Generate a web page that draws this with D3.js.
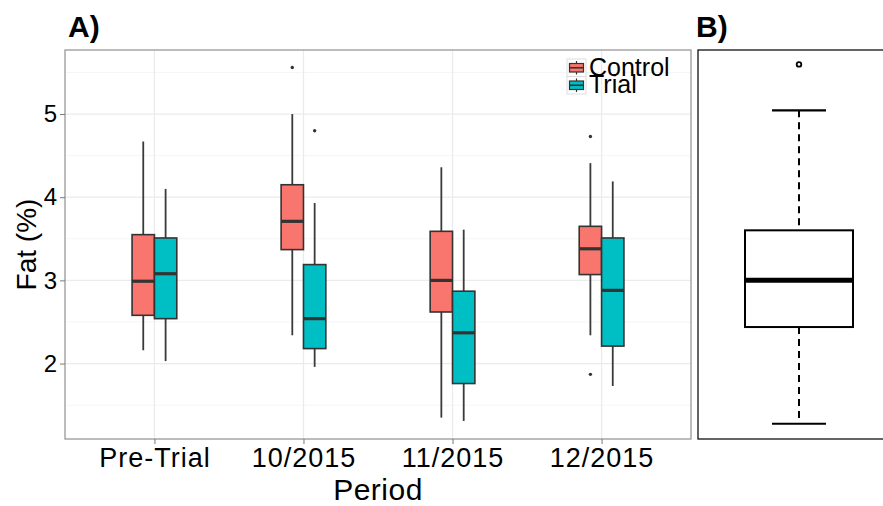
<!DOCTYPE html>
<html>
<head>
<meta charset="utf-8">
<script src="https://cdn.jsdelivr.net/npm/d3@7"></script>
<style>
  body { margin: 0; background: #fff; }
  svg { display: block; font-family: "Liberation Sans", Arial, sans-serif; }
</style>
</head>
<body>
<svg id="chart" width="883" height="506"></svg>
<script>
// periods and groups
const periods = ["Pre-Trial", "10/2015", "11/2015", "12/2015"];
const groups = ["Control", "Trial"];
const groupColors = ["#F8766D", "#00BFC4"];

// box stats per period: [lower whisker, Q1, median, Q3, upper whisker]
const controlStats = [
    [2.16, 2.58, 2.99, 3.55, 4.67],
    [2.34, 3.37, 3.71, 4.15, 5.00],
    [1.35, 2.62, 3.00, 3.59, 4.36],
    [2.34, 3.07, 3.38, 3.65, 4.41]
];
const trialStats = [
    [2.03, 2.54, 3.08, 3.51, 4.10],
    [1.96, 2.18, 2.54, 3.19, 3.93],
    [1.31, 1.76, 2.37, 2.87, 3.61],
    [1.73, 2.21, 2.88, 3.51, 4.19]
];
const controlOutliers = [[], [5.56], [], [4.73, 1.87]];
const trialOutliers = [[], [4.80], [], []];

// panel B: all records pooled
const pooledStats = [1.28, 2.44, 3.00, 3.60, 5.04];
const pooledOutliers = [5.59];

const yTicks = [2, 3, 4, 5];
const yMinor = [1.5, 2.5, 3.5, 4.5, 5.5];

const svg = d3.select("#chart");

// ---------- panel A ----------
const pLeft = 65, pRight = 691, pTop = 50, pBottom = 439;

const x = d3.scalePoint().domain(periods).range([pLeft, pRight]).padding(0.6);
const y = d3.scaleLinear().domain([1.093, 5.77]).range([pBottom, pTop]);
const dodge = d3.scaleBand().domain(groups).range([-x.step() * 0.15, x.step() * 0.15]);

const panel = svg.append("g");

panel.append("rect")
    .attr("x", pLeft).attr("y", pTop)
    .attr("width", pRight - pLeft).attr("height", pBottom - pTop)
    .attr("fill", "#fff");

panel.selectAll(".minor").data(yMinor).enter().append("line")
    .attr("x1", pLeft).attr("x2", pRight)
    .attr("y1", d => y(d)).attr("y2", d => y(d))
    .attr("stroke", "#f5f5f5").attr("stroke-width", 1);

panel.selectAll(".major").data(yTicks).enter().append("line")
    .attr("x1", pLeft).attr("x2", pRight)
    .attr("y1", d => y(d)).attr("y2", d => y(d))
    .attr("stroke", "#ebebeb").attr("stroke-width", 1.3);

panel.selectAll(".vgrid").data(periods).enter().append("line")
    .attr("x1", d => x(d)).attr("x2", d => x(d))
    .attr("y1", pTop).attr("y2", pBottom)
    .attr("stroke", "#ebebeb").attr("stroke-width", 1.3);

const series = groups.map((g, i) => ({
    group: g,
    color: groupColors[i],
    stats: i === 0 ? controlStats : trialStats,
    outliers: i === 0 ? controlOutliers : trialOutliers
}));

series.forEach(s => {
    const bw = dodge.bandwidth();
    const cx = p => x(p) + dodge(s.group) + bw / 2;
    const g = panel.append("g");

    periods.forEach((p, i) => {
        const st = s.stats[i];
        g.append("line")
            .attr("x1", cx(p)).attr("x2", cx(p))
            .attr("y1", y(st[4])).attr("y2", y(st[3]))
            .attr("stroke", "#3a3a3a").attr("stroke-width", 1.8);
        g.append("line")
            .attr("x1", cx(p)).attr("x2", cx(p))
            .attr("y1", y(st[1])).attr("y2", y(st[0]))
            .attr("stroke", "#3a3a3a").attr("stroke-width", 1.8);
        g.append("rect")
            .attr("x", x(p) + dodge(s.group))
            .attr("y", y(st[3]))
            .attr("width", bw)
            .attr("height", y(st[1]) - y(st[3]))
            .attr("fill", s.color)
            .attr("stroke", "#333").attr("stroke-width", 1.6);
        g.append("line")
            .attr("x1", x(p) + dodge(s.group)).attr("x2", x(p) + dodge(s.group) + bw)
            .attr("y1", y(st[2])).attr("y2", y(st[2]))
            .attr("stroke", "#333").attr("stroke-width", 3.2);
        s.outliers[i].forEach(v => {
            g.append("circle")
                .attr("cx", cx(p)).attr("cy", y(v)).attr("r", 1.7)
                .attr("fill", "#333");
        });
    });
});

panel.append("rect")
    .attr("x", pLeft).attr("y", pTop)
    .attr("width", pRight - pLeft).attr("height", pBottom - pTop)
    .attr("fill", "none").attr("stroke", "#999").attr("stroke-width", 1.3);

const yAxis = svg.append("g")
    .attr("transform", `translate(${pLeft},0)`)
    .call(d3.axisLeft(y).tickValues(yTicks).tickSize(5).tickPadding(3).tickFormat(d3.format("d")));
yAxis.select(".domain").remove();
yAxis.selectAll(".tick line").attr("stroke", "#777");
yAxis.selectAll("text").attr("font-size", 24).attr("fill", "#000")
    .attr("font-family", "Liberation Sans, Arial, sans-serif");

const xAxis = svg.append("g")
    .attr("transform", `translate(0,${pBottom})`)
    .call(d3.axisBottom(x).tickSize(5).tickPadding(4));
xAxis.select(".domain").remove();
xAxis.selectAll(".tick line").attr("stroke", "#777");
xAxis.selectAll("text").attr("font-size", 27).attr("fill", "#000")
    .attr("letter-spacing", 1)
    .attr("font-family", "Liberation Sans, Arial, sans-serif");

svg.append("text")
    .attr("x", (pLeft + pRight) / 2).attr("y", 500)
    .attr("text-anchor", "middle")
    .attr("font-size", 30)
    .attr("letter-spacing", 0.5)
    .text("Period");

svg.append("text")
    .attr("transform", `translate(36,${(pTop + pBottom) / 2}) rotate(-90)`)
    .attr("text-anchor", "middle")
    .attr("font-size", 28)
    .text("Fat (%)");

svg.append("text")
    .attr("x", 68).attr("y", 37)
    .attr("font-size", 30).attr("font-weight", "bold")
    .text("A)");

// legend
const legend = svg.append("g").attr("transform", "translate(567,59)");
const keyH = 17.5;
groups.forEach((g, i) => {
    const k = legend.append("g").attr("transform", `translate(0,${i * keyH})`);
    k.append("rect").attr("width", 19).attr("height", keyH)
        .attr("fill", "#fff").attr("stroke", "#ddd").attr("stroke-width", 1);
    k.append("line").attr("x1", 9.5).attr("x2", 9.5).attr("y1", 2).attr("y2", keyH - 2)
        .attr("stroke", "#333").attr("stroke-width", 1.2);
    k.append("rect").attr("x", 2.5).attr("y", 4.5).attr("width", 14).attr("height", keyH - 9)
        .attr("fill", groupColors[i]).attr("stroke", "#333").attr("stroke-width", 1.2);
    k.append("line").attr("x1", 2.5).attr("x2", 16.5).attr("y1", keyH / 2).attr("y2", keyH / 2)
        .attr("stroke", "#333").attr("stroke-width", 1.6);
    k.append("text").attr("x", 22).attr("y", keyH - 1)
        .attr("font-size", 25).text(g);
});

// ---------- panel B ----------
const bLeft = 698, bRight = 900;
const yB = d3.scaleLinear().domain([1.097, 5.763]).range([pBottom, pTop]);
const bCenter = 799, bHalf = 54, capHalf = 27;

const pb = svg.append("g");
pb.append("rect")
    .attr("x", bLeft).attr("y", pTop)
    .attr("width", bRight - bLeft).attr("height", pBottom - pTop)
    .attr("fill", "#fff").attr("stroke", "#111").attr("stroke-width", 1.3);

pb.append("line")
    .attr("x1", bCenter).attr("x2", bCenter)
    .attr("y1", yB(pooledStats[4])).attr("y2", yB(pooledStats[3]))
    .attr("stroke", "#000").attr("stroke-width", 2).attr("stroke-dasharray", "7,5");
pb.append("line")
    .attr("x1", bCenter).attr("x2", bCenter)
    .attr("y1", yB(pooledStats[1])).attr("y2", yB(pooledStats[0]))
    .attr("stroke", "#000").attr("stroke-width", 2).attr("stroke-dasharray", "7,5");
[pooledStats[0], pooledStats[4]].forEach(v => {
    pb.append("line")
        .attr("x1", bCenter - capHalf).attr("x2", bCenter + capHalf)
        .attr("y1", yB(v)).attr("y2", yB(v))
        .attr("stroke", "#000").attr("stroke-width", 2.2);
});
pb.append("rect")
    .attr("x", bCenter - bHalf).attr("y", yB(pooledStats[3]))
    .attr("width", bHalf * 2).attr("height", yB(pooledStats[1]) - yB(pooledStats[3]))
    .attr("fill", "#fff").attr("stroke", "#000").attr("stroke-width", 2);
pb.append("line")
    .attr("x1", bCenter - bHalf).attr("x2", bCenter + bHalf)
    .attr("y1", yB(pooledStats[2])).attr("y2", yB(pooledStats[2]))
    .attr("stroke", "#000").attr("stroke-width", 5);
pooledOutliers.forEach(v => {
    pb.append("circle")
        .attr("cx", bCenter).attr("cy", yB(v)).attr("r", 2.3)
        .attr("fill", "none").attr("stroke", "#000").attr("stroke-width", 1.8);
});

svg.append("text")
    .attr("x", 696).attr("y", 37)
    .attr("font-size", 30).attr("font-weight", "bold")
    .text("B)");
</script>
</body>
</html>
